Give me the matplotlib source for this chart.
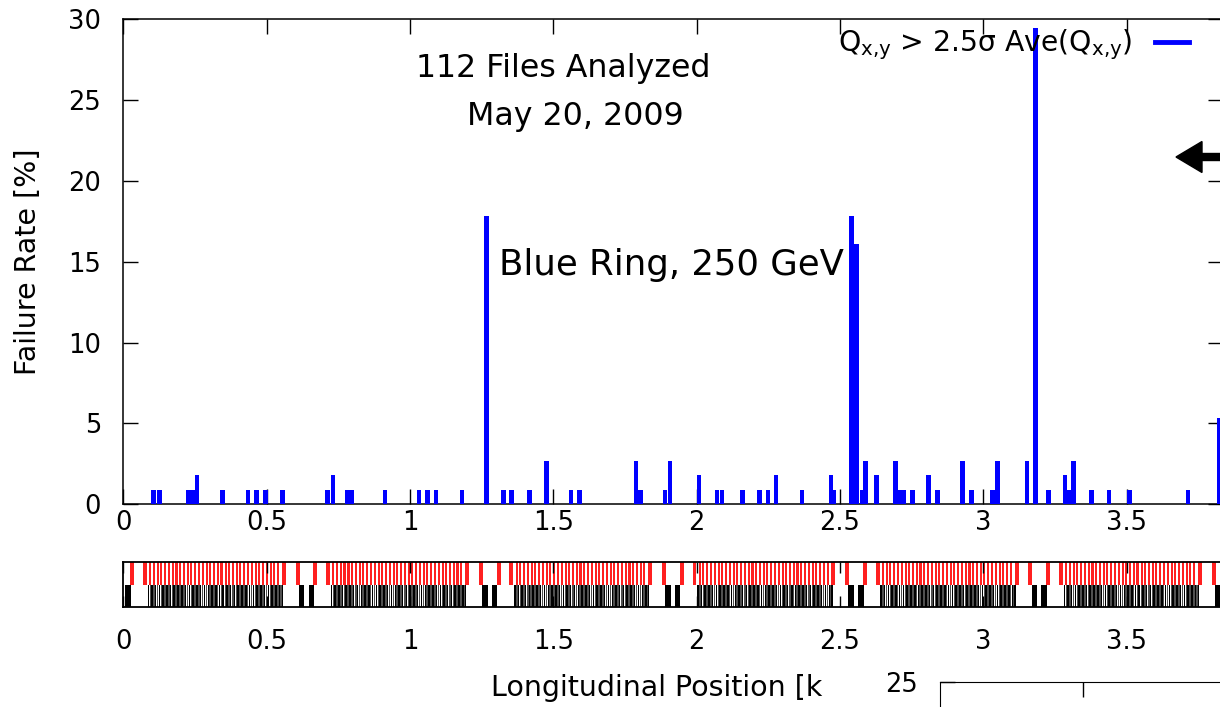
import matplotlib
matplotlib.use('Agg')
import matplotlib.pyplot as plt
from matplotlib.lines import Line2D
from matplotlib.patches import FancyArrow
from matplotlib.transforms import IdentityTransform

plt.rcParams['font.family'] = ['DejaVu Sans']
plt.rcParams['mathtext.fontset'] = 'dejavusans'

# ---------------- data ----------------
# BPM positions [km] with failures and number of failing files (out of 112)
bpm_pos = [0.105, 0.125, 0.228, 0.242, 0.257, 0.346, 0.435, 0.465, 0.495, 0.556,
           0.712, 0.731, 0.780, 0.797, 0.913, 1.031, 1.061, 1.091, 1.181, 1.268,
           1.326, 1.355, 1.418, 1.476, 1.562, 1.591, 1.788, 1.804, 1.889, 1.907,
           2.008, 2.071, 2.088, 2.160, 2.220, 2.249, 2.277, 2.367, 2.468, 2.479,
           2.540, 2.557, 2.577, 2.590, 2.628, 2.694, 2.709, 2.722, 2.753, 2.808,
           2.840, 2.927, 2.958, 3.032, 3.048, 3.152, 3.182, 3.227, 3.285, 3.300,
           3.314, 3.377, 3.438, 3.510, 3.714, 3.822]
fail_count = [1, 1, 1, 1, 2, 1, 1, 1, 1, 1,
              1, 2, 1, 1, 1, 1, 1, 1, 1, 20,
              1, 1, 1, 3, 1, 1, 3, 1, 1, 3,
              2, 1, 1, 1, 1, 1, 2, 1, 2, 1,
              20, 18, 1, 3, 2, 3, 1, 1, 1, 2,
              1, 3, 1, 1, 3, 3, 33, 1, 2, 1,
              3, 1, 1, 1, 1, 6]
n_files = 112
fail_rate = [100.0 * c / n_files for c in fail_count]

x_ticks = [0, 0.5, 1, 1.5, 2, 2.5, 3, 3.5]
x_tick_labels = ['0', '0.5', '1', '1.5', '2', '2.5', '3', '3.5']
y_ticks = [0, 5, 10, 15, 20, 25, 30]
ring_length = 3.834

# lattice strip: sextant start positions (IPs) [km]
sextant_start = [0.0, 0.639, 1.278, 1.917, 2.556, 3.195]
# positions relative to sextant start [km]
dipole_thick_rel = [(0.024, 0.014), (0.069, 0.013), (0.553, 0.014), (0.601, 0.014)]
dipole_thin_rel = [0.090, 0.103, 0.116, 0.129, 0.143, 0.156, 0.169, 0.182, 0.195,
                   0.208, 0.221, 0.234, 0.248, 0.261, 0.274, 0.287, 0.300, 0.313,
                   0.326, 0.339, 0.353, 0.366, 0.379, 0.392, 0.405, 0.418, 0.431,
                   0.444, 0.458, 0.471, 0.484, 0.497, 0.510, 0.523, 0.536]
quad_thick_rel = [(0.007, 0.019), (0.612, 0.020)]
quad_dark_rel = [0.085, 0.097, 0.110, 0.123, 0.136, 0.149, 0.162, 0.175, 0.189,
                 0.202, 0.215, 0.228, 0.241, 0.254, 0.267, 0.280, 0.294, 0.307,
                 0.320, 0.333, 0.346, 0.359, 0.372, 0.385, 0.398, 0.412, 0.425,
                 0.438, 0.451, 0.464, 0.477, 0.490, 0.503, 0.516, 0.530, 0.543, 0.552]
quad_gray_rel = [0.092, 0.104, 0.117, 0.130, 0.142, 0.156, 0.169, 0.182, 0.195,
                 0.208, 0.221, 0.235, 0.248, 0.261, 0.274, 0.287, 0.300, 0.313,
                 0.326, 0.340, 0.353, 0.366, 0.379, 0.392, 0.405, 0.418, 0.431,
                 0.445, 0.458, 0.471, 0.484, 0.497, 0.510, 0.523, 0.536, 0.548]

# ---------------- figure ----------------
W, H = 1220, 707
fig = plt.figure(figsize=(W / 100, H / 100), dpi=100)


def fx(px):
    return px / W


def fy(py):
    return 1 - py / H


TICK_FS = 18.5
x0, x1 = 123.3, 1222.5
ax = fig.add_axes([fx(x0), fy(504.3), fx(x1) - fx(x0), fy(19.3) - fy(504.3)])
ax.bar(bpm_pos, fail_rate, width=0.0165, color='#0000ff', linewidth=0, zorder=3)
ax.set_xlim(0, ring_length)
ax.set_ylim(0, 30)
ax.set_xticks(x_ticks)
ax.set_xticklabels(x_tick_labels)
ax.set_yticks(y_ticks)
ax.tick_params(direction='in', length=11, width=1, top=True, right=True,
               labelsize=TICK_FS, colors='black')
ax.tick_params(axis='x', pad=4)
ax.tick_params(axis='y', pad=16)
for s in ax.spines.values():
    s.set_linewidth(1.1)
ax.set_ylabel('Failure Rate [%]', fontsize=20.5, va='center')
ax.yaxis.set_label_coords((28 - x0) / (x1 - x0), 0.5)

leg = ax.legend([Line2D([], [], color='#0000ff', lw=3.5)],
                [r'$\mathregular{Q_{x{,}y}}$ > 2.5σ Ave($\mathregular{Q_{x{,}y}}$)'],
                loc='center right', bbox_to_anchor=(fx(1189), fy(45)),
                bbox_transform=fig.transFigure, markerfirst=False, frameon=False,
                fontsize=20.3, handlelength=1.2, handletextpad=0.8,
                borderpad=0, borderaxespad=0)

fig.text(fx(563), fy(69), '112 Files Analyzed', ha='center', va='center', fontsize=22.8)
fig.text(fx(575), fy(117), 'May 20, 2009', ha='center', va='center', fontsize=22.8)
fig.text(fx(671), fy(265), 'Blue Ring, 250 GeV', ha='center', va='center', fontsize=25.6)

# arrow at the right edge
fig.add_artist(FancyArrow(1232, H - 157, -56, 0, width=7, head_width=31,
                          head_length=26, length_includes_head=True,
                          color='black', transform=IdentityTransform()))

# ---------------- lattice strip ----------------
ax2 = fig.add_axes([fx(x0), fy(607), fx(x1) - fx(x0), fy(562) - fy(607)])
red_x, red_w, dk_x, dk_w, gr_x, gr_w = [], [], [], [], [], []
for s0 in sextant_start:
    for (r, w) in dipole_thick_rel:
        red_x.append(s0 + r); red_w.append(w)
    for r in dipole_thin_rel:
        red_x.append(s0 + r); red_w.append(0.0072)
    for (r, w) in quad_thick_rel:
        dk_x.append(s0 + r); dk_w.append(w)
    for r in quad_dark_rel:
        dk_x.append(s0 + r); dk_w.append(0.0052)
    for r in quad_gray_rel:
        gr_x.append(s0 + r); gr_w.append(0.0055)
ax2.bar(red_x, 0.5, width=red_w, bottom=0.5, align='edge', color='#ff2020', linewidth=0)
ax2.bar(gr_x, 0.5, width=gr_w, bottom=0.0, align='edge', color='#505050', linewidth=0)
ax2.bar(dk_x, 0.5, width=dk_w, bottom=0.0, align='edge', color='#000000', linewidth=0)
ax2.set_xlim(0, ring_length)
ax2.set_ylim(0, 1)
ax2.set_yticks([])
ax2.set_xticks(x_ticks)
ax2.set_xticklabels(x_tick_labels)
ax2.tick_params(direction='in', length=8, width=1, top=True, labelsize=TICK_FS, pad=16)
for s in ax2.spines.values():
    s.set_linewidth(1.3)

fig.text(fx(657), fy(688), 'Longitudinal Position [k', ha='center', va='center', fontsize=20.5)

# corner of the neighbouring panel
ax3 = fig.add_axes([fx(940), -0.3, 0.4, fy(682) + 0.3])
ax3.set_xlim(0, 1)
ax3.set_ylim(0, 25)
ax3.spines['right'].set_visible(False)
ax3.spines['bottom'].set_visible(False)
ax3.set_yticks([25])
ax3.set_xticks([(1083 - 940) / (0.4 * W)])
ax3.set_xticklabels([''])
ax3.tick_params(direction='in', length=11, width=1, top=True, bottom=False,
                labelsize=TICK_FS, pad=16)

fig.savefig('out.png', dpi=100)
